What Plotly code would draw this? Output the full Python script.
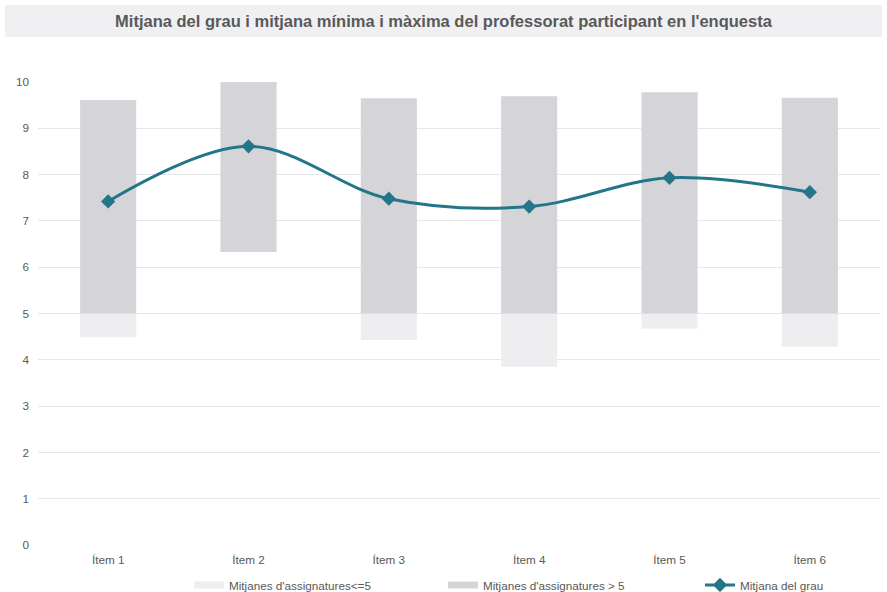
import plotly.graph_objects as go

categories = ["Ítem 1", "Ítem 2", "Ítem 3", "Ítem 4", "Ítem 5", "Ítem 6"]
min_means = [4.48, 6.33, 4.43, 3.85, 4.67, 4.28]
max_means = [9.61, 10.0, 9.65, 9.69, 9.78, 9.66]
grade_mean = [7.42, 8.61, 7.48, 7.31, 7.93, 7.62]
threshold = 5

name_low = "Mitjanes d'assignatures<=5"
name_high = "Mitjanes d'assignatures > 5"
name_line = "Mitjana del grau"

LIGHT = "#eeeef0"
DARK = "#d5d5d9"
LINE = "#23758a"
FONT = "Liberation Sans, Arial, sans-serif"
TXT = "#595959"
FS = 11.7

high_base = [max(lo, threshold) for lo in min_means]
high_len = [hi - b for hi, b in zip(max_means, high_base)]
low_base = [lo for lo in min_means]
low_len = [max(threshold - lo, 0) for lo in min_means]

PL, PR, PT, PB = 38, 880, 82, 545
PW, PH = PR - PL, PB - PT


def px_x(p):
    return (p - PL) / PW


def px_y(p):
    return (PB - p) / PH


fig = go.Figure()
fig.add_trace(go.Bar(x=categories, y=low_len, base=low_base, width=0.4,
                     marker=dict(color=LIGHT, line=dict(width=0)),
                     name=name_low, showlegend=False, hoverinfo="skip"))
fig.add_trace(go.Bar(x=categories, y=high_len, base=high_base, width=0.4,
                     marker=dict(color=DARK, line=dict(width=0)),
                     name=name_high, showlegend=False, hoverinfo="skip"))
fig.add_trace(go.Scatter(x=categories, y=grade_mean, mode="lines+markers",
                         line=dict(color=LINE, width=3, shape="spline", smoothing=1.0),
                         marker=dict(symbol="diamond", size=11, color=LINE),
                         name=name_line, showlegend=False))
# legend entries
fig.add_trace(go.Scatter(x=[None], y=[None], mode="lines", line=dict(color=LIGHT, width=7),
                         name=name_low, showlegend=True, legend="legend"))
fig.add_trace(go.Scatter(x=[None], y=[None], mode="lines", line=dict(color=DARK, width=7),
                         name=name_high, showlegend=True, legend="legend2"))
fig.add_trace(go.Scatter(x=[None], y=[None], mode="lines+markers",
                         line=dict(color=LINE, width=3),
                         marker=dict(symbol="diamond", size=11, color=LINE),
                         name=name_line, showlegend=True, legend="legend3"))

leg_common = dict(orientation="h", xanchor="left", yanchor="middle", y=px_y(585),
                  font=dict(size=FS, color=TXT, family=FONT), bgcolor="rgba(0,0,0,0)",
                  borderwidth=0)

fig.update_layout(
    width=887, height=592,
    margin=dict(l=PL, r=887 - PR, t=PT, b=592 - PB, autoexpand=False),
    paper_bgcolor="white", plot_bgcolor="white",
    barmode="overlay",
    font=dict(family=FONT, size=FS, color=TXT),
    title=dict(text="<b>Mitjana del grau i mitjana mínima i màxima del professorat participant en l'enquesta</b>",
               x=0.5, xanchor="center", y=1 - 21 / 592, yanchor="middle",
               font=dict(family=FONT, size=16.5, color=TXT)),
    shapes=[dict(type="rect", xref="paper", yref="paper",
                 x0=px_x(5), x1=px_x(882), y0=px_y(37), y1=px_y(5),
                 fillcolor="#f0f0f2", line=dict(width=0), layer="below")],
    xaxis=dict(showgrid=False, showline=False, zeroline=False, ticks="", automargin=False,
               ticklabelstandoff=6, tickfont=dict(size=FS, color=TXT)),
    yaxis=dict(range=[0, 10], dtick=1, showgrid=True, gridcolor="#e6e6e6", gridwidth=1,
               zeroline=False, showline=False, ticks="", ticklabelstandoff=8, automargin=False,
               tickfont=dict(size=FS, color=TXT)),
    legend=dict(x=px_x(189), **leg_common),
    legend2=dict(x=px_x(443), **leg_common),
    legend3=dict(x=px_x(700), **leg_common),
    showlegend=True,
)

fig.write_html("out.html", config={"displayModeBar": False},
               post_script="document.body.style.margin='0';document.body.style.overflow='hidden';")
